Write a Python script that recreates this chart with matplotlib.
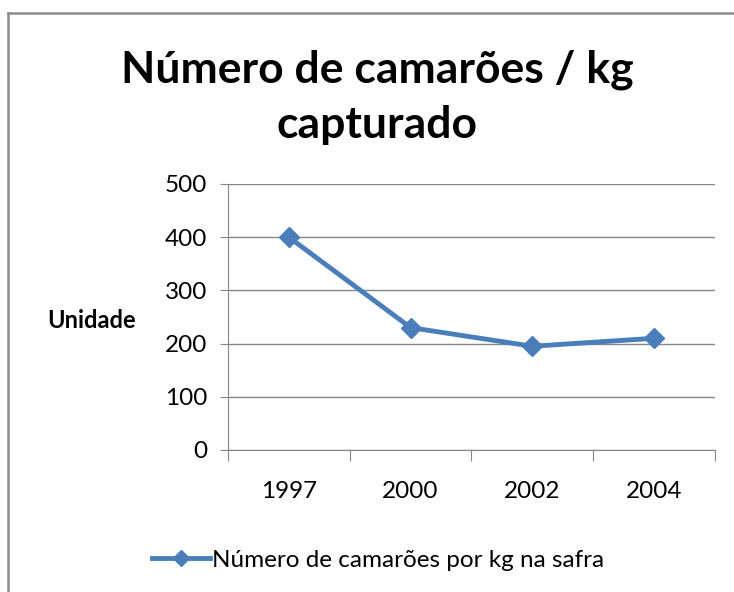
import matplotlib.pyplot as plt
from matplotlib.lines import Line2D

anos = ['1997', '2000', '2002', '2004']
camaroes = [400, 230, 195, 210]
y_ticks = [0, 100, 200, 300, 400, 500]

plt.rcParams['font.family'] = ['Lato', 'DejaVu Sans']

fig = plt.figure(figsize=(7.34, 5.92), dpi=100)
# moldura do gráfico (só topo e lado esquerdo aparecem no recorte)
x0, y0 = 8 / 734, 1 - 13 / 592
fig.add_artist(Line2D([x0, 1], [y0, y0], transform=fig.transFigure,
                      color='#8c8c8c', linewidth=1.8))
fig.add_artist(Line2D([x0, x0], [0, y0], transform=fig.transFigure,
                      color='#8c8c8c', linewidth=1.8))

ax = fig.add_axes([228 / 734, 1 - 450 / 592, (715 - 228) / 734, (450 - 184) / 592])
x = range(len(anos))
ax.plot(x, camaroes, color='#4a7ebb', linewidth=3.5, marker='D', markersize=10,
        label='Número de camarões por kg na safra')

ax.set_xlim(-0.5, len(anos) - 0.5)
ax.set_ylim(0, 500)
ax.set_yticks(y_ticks)
ax.set_xticks([i - 0.5 for i in range(len(anos) + 1)], minor=False)
ax.set_xticklabels([''] * (len(anos) + 1))
ax.set_xticks(list(x), minor=True)
ax.set_xticklabels(anos, minor=True)
ax.tick_params(axis='x', which='major', length=8, color='#868686')
ax.tick_params(axis='x', which='minor', length=0, labelsize=17.5, pad=22)
ax.tick_params(axis='y', length=6, color='#868686', labelsize=17.5, pad=9)
ax.grid(axis='y', color='#868686', linewidth=1)
for s in ['top', 'right']:
    ax.spines[s].set_visible(False)
for s in ['left', 'bottom']:
    ax.spines[s].set_color('#868686')

fig.text(377 / 734, 1 - 70 / 592, 'Número de camarões / kg', ha='center', va='center',
         fontsize=32, fontweight='bold')
fig.text(377 / 734, 1 - 125 / 592, 'capturado', ha='center', va='center',
         fontsize=32, fontweight='bold')
fig.text(92 / 734, 1 - 320 / 592, 'Unidade', ha='center', va='center',
         fontsize=17, fontweight='bold')

fig.legend(loc='center', bbox_to_anchor=(378 / 734, 1 - 560 / 592), frameon=False,
           fontsize=17.5, handlelength=2.4, handletextpad=0.1, markerscale=0.8)

fig.savefig('out.png', dpi=100)
